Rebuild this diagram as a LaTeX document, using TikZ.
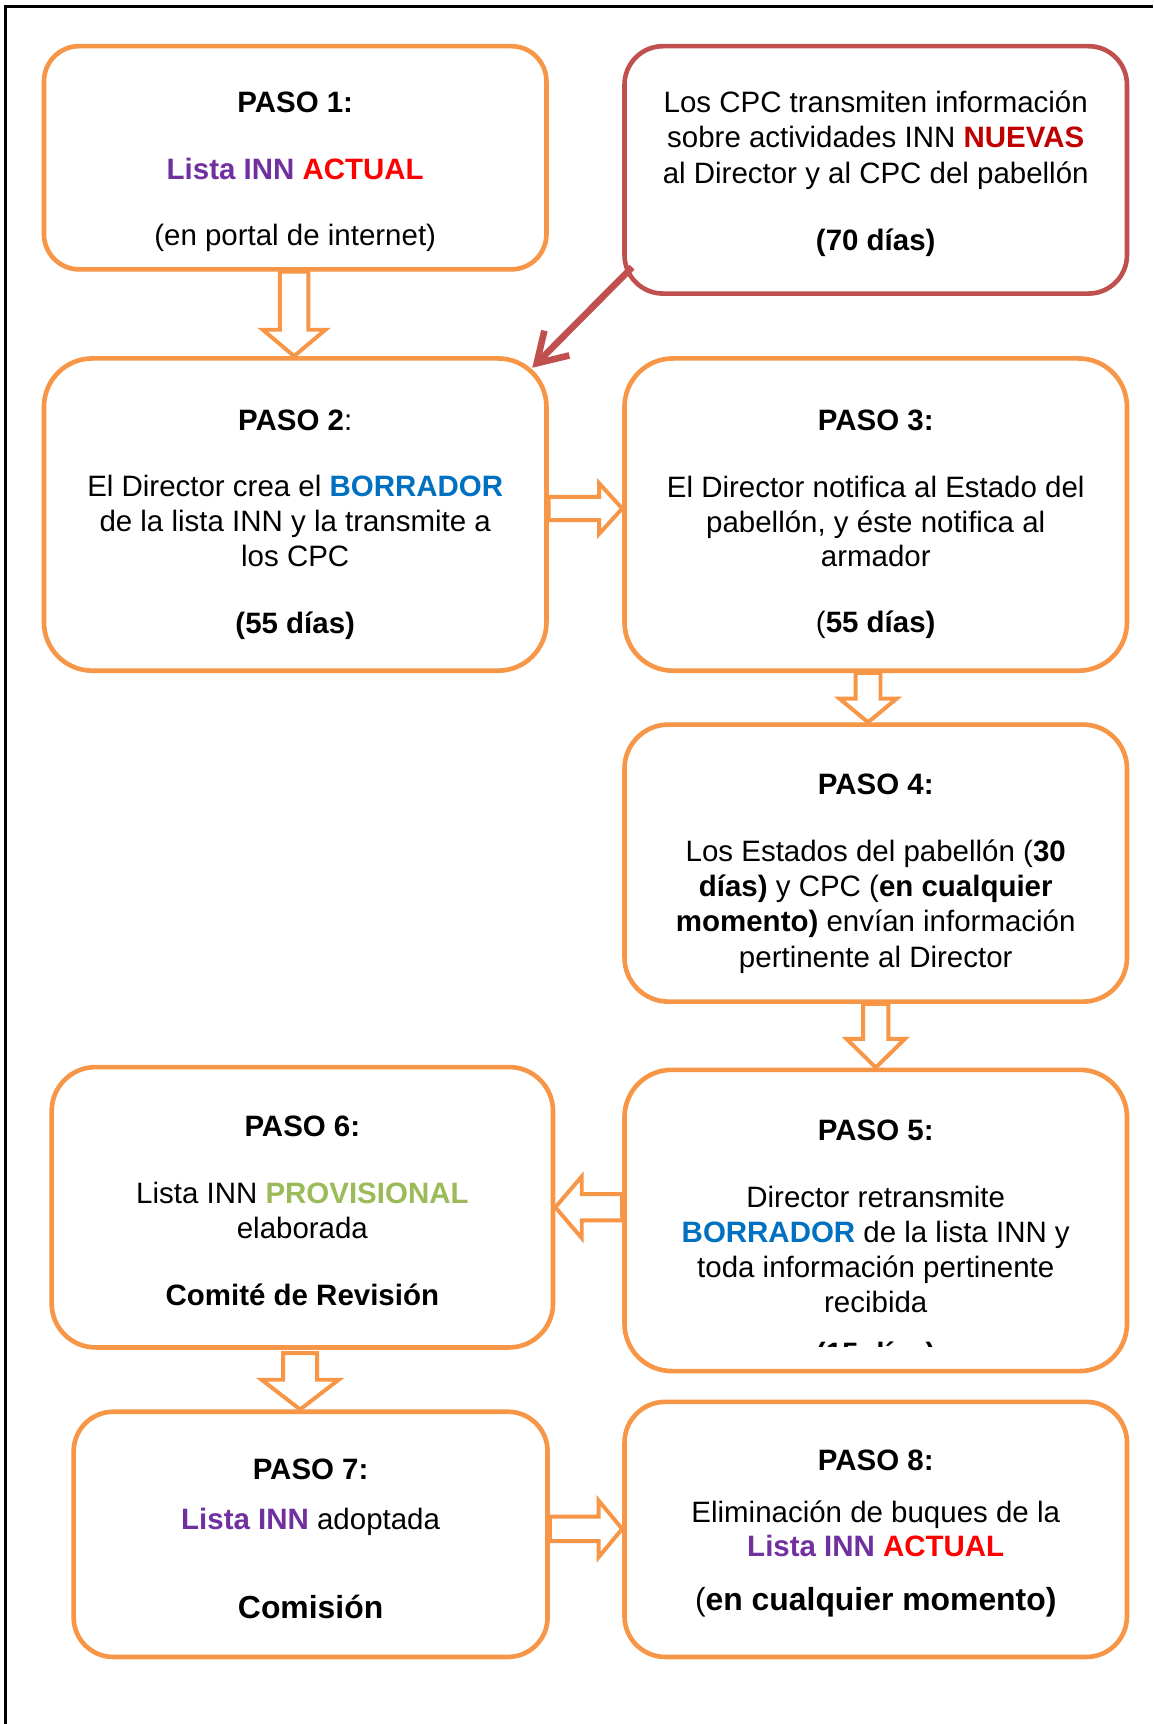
\documentclass[tikz,border=0pt]{standalone}
\usepackage{fontspec}
\setmainfont{Liberation Sans}
\usetikzlibrary{calc,arrows.meta}
\definecolor{borange}{HTML}{F79646}
\definecolor{bred}{HTML}{C0504D}
\definecolor{cpurple}{HTML}{7030A0}
\definecolor{cred}{HTML}{FF0000}
\definecolor{cdred}{HTML}{C00000}
\definecolor{cblue}{HTML}{0070C0}
\definecolor{cgreen}{HTML}{9BBB59}
\newcommand\purp[1]{\textcolor{cpurple}{\textbf{#1}}}
\newcommand\blockarrow[5]{%
  \coordinate (bah) at ($(#2)!#5pt!(#1)$);
  \draw[barrow] ($(#1)!#3pt!90:(#2)$) -- ($(bah)!#3pt!90:(#2)$) -- ($(bah)!#4pt!90:(#2)$) -- (#2) -- ($(bah)!#4pt!-90:(#2)$) -- ($(bah)!#3pt!-90:(#2)$) -- ($(#1)!#3pt!-90:(#2)$) -- cycle;}
\begin{document}
\begin{tikzpicture}[x=1pt,y=-1pt,
  obox/.style={draw=borange, line width=4.2pt, fill=white, inner sep=0pt, rectangle},
  rbox/.style={draw=bred, line width=4.2pt, fill=white, inner sep=0pt, rectangle},
  txt/.style={anchor=base, inner sep=0pt, font=\fontsize{26.8}{32}\selectfont},
  bigtxt/.style={anchor=base, inner sep=0pt, font=\fontsize{29}{34}\selectfont},
  barrow/.style={draw=borange, line width=3.6pt, fill=white, line join=miter},
  redarr/.style={draw=bred, line width=6pt, -{Straight Barb[length=26pt,width=32pt]}}]
\useasboundingbox (0,0) rectangle (1049,1568);
\fill[white] (0,0) rectangle (1049,1568);
\draw[line width=2pt] (5,1568) -- (5,6) -- (1049,6);
% boxes
\node[obox, rounded corners=32pt, minimum width=457pt, minimum height=203pt] (b1) at (268.5,143.5) {};
\node[rbox, rounded corners=35pt, minimum width=457pt, minimum height=225pt] (cpc) at (796.5,154.5) {};
\node[obox, rounded corners=44pt, minimum width=457pt, minimum height=284pt] (b2) at (268.5,468) {};
\node[obox, rounded corners=44pt, minimum width=457pt, minimum height=284pt] (b3) at (796.5,468) {};
\node[obox, rounded corners=40pt, minimum width=457pt, minimum height=252pt] (b4) at (796.5,785) {};
\node[obox, rounded corners=43pt, minimum width=457pt, minimum height=274pt] (b5) at (796.5,1110) {};
\node[obox, rounded corners=40pt, minimum width=456pt, minimum height=255pt] (b6) at (275,1098) {};
\node[obox, rounded corners=36pt, minimum width=431pt, minimum height=223pt] (b7) at (282.5,1395.5) {};
\node[obox, rounded corners=37pt, minimum width=457pt, minimum height=232pt] (b8) at (796.5,1391) {};
% block arrows
\coordinate (a12s) at ($(b1.south)+(-1,0)$); \coordinate (a12t) at (a12s |- b2.north);
\blockarrow{a12s}{a12t}{13}{28.5}{24}
\coordinate (a23s) at ($(b2.east)+(0,-5.5)$); \coordinate (a23t) at (a23s -| b3.west);
\blockarrow{a23s}{a23t}{10.5}{23}{21}
\coordinate (a34s) at ($(b3.south)+(-7,0)$); \coordinate (a34t) at (a34s |- b4.north);
\blockarrow{a34s}{a34t}{11.3}{26}{21.5}
\coordinate (a45s) at (b4.south); \coordinate (a45t) at (a45s |- b5.north);
\blockarrow{a45s}{a45t}{11.4}{26.5}{26}
\coordinate (a56s) at ($(b5.west)+(0,-12)$); \coordinate (a56t) at (a56s -| b6.east);
\blockarrow{a56s}{a56t}{12}{28}{24}
\coordinate (a67s) at ($(b6.south)+(-2,3)$); \coordinate (a67t) at (a67s |- b7.north);
\blockarrow{a67s}{a67t}{15.5}{35}{27}
\coordinate (a78s) at ($(b7.east)+(0,-5)$); \coordinate (a78t) at (a78s -| b8.west);
\blockarrow{a78s}{a78t}{11.2}{25.8}{21.5}
% red arrow
\coordinate (rs) at ($(cpc.south west)+(9,-26)$);
\coordinate (rt) at ($(b2.north east)+(-15,10.6)$);
\draw[redarr] (rs) -- (rt);
% texts box 1
\node[txt] (t1a) at (268.5,102) {\textbf{PASO 1:}};
\node[txt] (t1b) at (268.5,163.5) {\purp{Lista INN} \textcolor{cred}{\textbf{ACTUAL}}};
\node[txt] (t1c) at (268.5,223) {(en portal de internet)};
% cpc
\node[txt] (tca) at (796.5,102.5) {Los CPC transmiten información};
\node[txt] (tcb) at (796.5,134.5) {sobre actividades INN \textcolor{cdred}{\textbf{NUEVAS}}};
\node[txt] (tcc) at (796.5,166.5) {al Director y al CPC del pabellón};
\node[txt] (tcd) at (796.5,227.5) {\textbf{(70 días)}};
% box 2
\node[txt] (t2a) at (268.5,391.5) {\textbf{PASO 2}:};
\node[txt] (t2b) at (268.5,451.5) {El Director crea el \textcolor{cblue}{\textbf{BORRADOR}}};
\node[txt] (t2c) at (268.5,483.5) {de la lista INN y la transmite a};
\node[txt] (t2d) at (268.5,515.5) {los CPC};
\node[txt] (t2e) at (268.5,576.5) {\textbf{(55 días)}};
% box 3
\node[txt] (t3a) at (796.5,391.5) {\textbf{PASO 3:}};
\node[txt] (t3b) at (796.5,452.5) {El Director notifica al Estado del};
\node[txt] (t3c) at (796.5,484.5) {pabellón, y éste notifica al};
\node[txt] (t3d) at (796.5,515.5) {armador};
\node[txt] (t3e) at (796.5,575.5) {(\textbf{55 días)}};
% box 4
\node[txt] (t4a) at (796.5,722.5) {\textbf{PASO 4:}};
\node[txt] (t4b) at (796.5,783.5) {Los Estados del pabellón (\textbf{30}};
\node[txt] (t4c) at (796.5,815.5) {\textbf{días)} y CPC (\textbf{en cualquier}};
\node[txt] (t4d) at (796.5,847.5) {\textbf{momento)} envían información};
\node[txt] (t4e) at (796.5,879.5) {pertinente al Director};
% box 5
\node[txt] (t5a) at (796.5,1037.5) {\textbf{PASO 5:}};
\node[txt] (t5b) at (796.5,1098.5) {Director retransmite};
\node[txt] (t5c) at (796.5,1130) {\textcolor{cblue}{\textbf{BORRADOR}} de la lista INN y};
\node[txt] (t5d) at (796.5,1162) {toda información pertinente};
\node[txt] (t5e) at (796.5,1194) {recibida};
\begin{scope}
\clip (700,1200) rectangle (900,1225);
\node[txt] (t5f) at (796.5,1240) {\textbf{(15 días)}};
\end{scope}
% box 6
\node[txt] (t6a) at (275,1033.5) {\textbf{PASO 6:}};
\node[txt] (t6b) at (275,1094.5) {Lista INN \textcolor{cgreen}{\textbf{PROVISIONAL}}};
\node[txt] (t6c) at (275,1126) {elaborada};
\node[txt] (t6d) at (275,1187) {\textbf{Comité de Revisión}};
% box 7
\node[txt] (t7a) at (282.5,1345.5) {\textbf{PASO 7:}};
\node[txt] (t7b) at (282.5,1391.5) {\purp{Lista INN} adoptada};
\node[bigtxt] (t7c) at (282.5,1472) {\textbf{Comisión}};
% box 8
\node[txt] (t8a) at (796.5,1337.5) {\textbf{PASO 8:}};
\node[txt] (t8b) at (796.5,1384.5) {Eliminación de buques de la};
\node[txt] (t8c) at (796.5,1415.5) {\purp{Lista INN} \textcolor{cred}{\textbf{ACTUAL}}};
\node[bigtxt] (t8d) at (796.5,1465) {(\textbf{en cualquier momento)}};
\end{tikzpicture}
\end{document}
